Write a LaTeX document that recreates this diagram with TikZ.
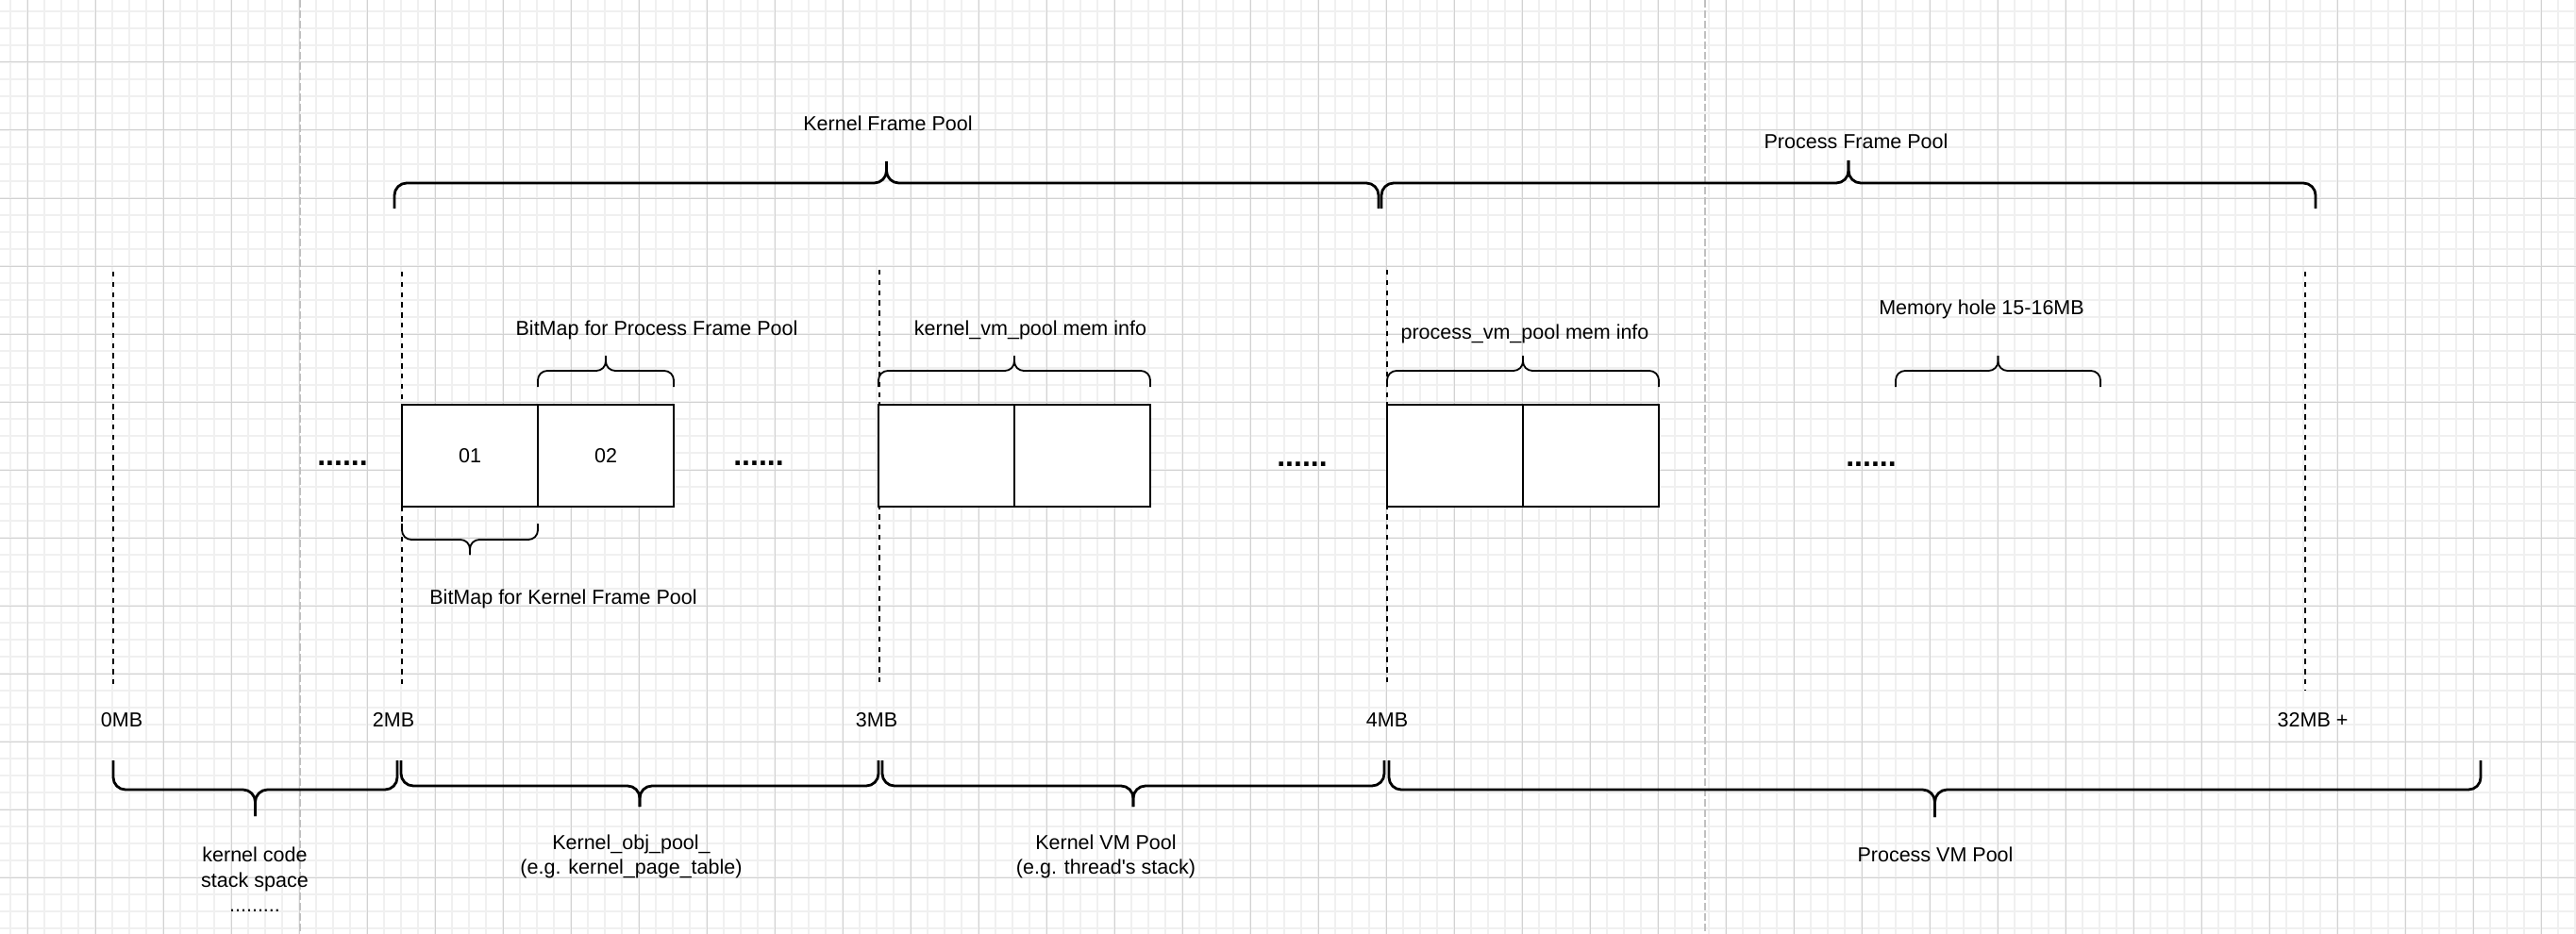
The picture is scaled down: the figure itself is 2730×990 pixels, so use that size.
\documentclass[tikz,border=0pt]{standalone}
\usepackage{fontspec}
\setmainfont{Liberation Sans}
\definecolor{minorgray}{HTML}{F0F0F0}
\definecolor{majorgray}{HTML}{D2D2D2}
\definecolor{pagegray}{HTML}{C0C0C0}
\newcommand{\cbrace}[6][]{%
  \pgfmathsetmacro\cbxm{(#2+#3)/2}%
  \draw[#1] (#2,#4) -- (#2,#5) -- (\cbxm,#5) -- (\cbxm,#6);
  \draw[#1] (#3,#4) -- (#3,#5) -- (\cbxm,#5) -- (\cbxm,#6);
}
\tikzset{
  lbl/.style={font=\fontsize{10.75}{13}\selectfont, inner sep=0pt, anchor=base},
  dotrow/.style={font=\bfseries\fontsize{16}{16}\selectfont, inner sep=0pt, anchor=base},
  cell/.style={draw, line width=0.9pt, fill=white, minimum width=72pt, minimum height=54pt, inner sep=0pt, font=\fontsize{10.75}{13}\selectfont},
  marker/.style={line width=0.9pt, dash pattern=on 2.7pt off 2.7pt},
  pageline/.style={draw=pagegray, line width=0.75pt, dash pattern=on 4pt off 1.5pt},
  bigbrace/.style={line width=1.4pt, rounded corners=6.5pt, line join=round},
  smallbrace/.style={line width=0.9pt, rounded corners=5pt, line join=round},
  minorgrid/.style={draw=minorgray, line width=0.9pt},
  majorgrid/.style={draw=majorgray, line width=0.5pt},
}
\begin{document}
\begin{tikzpicture}[x=0.5pt, y=-0.5pt]
\useasboundingbox (0,0) rectangle (2730,990);
\fill[white] (0,0) rectangle (2730,990);
% grid
\begin{scope}
\clip (0,0) rectangle (2730,990);
\foreach \x in {11,29,...,2730} \draw[minorgrid] (\x,0) -- (\x,990);
\foreach \y in {12,30,...,990} \draw[minorgrid] (0,\y) -- (2730,\y);
\foreach \x in {29,101,...,2730} \draw[majorgrid] (\x,0) -- (\x,990);
\foreach \y in {66,138,...,990} \draw[majorgrid] (0,\y) -- (2730,\y);
\end{scope}
% page break lines
\coordinate (p1t) at (318,0);  \coordinate (p1b) at (318,990);
\coordinate (p2t) at (1807,0); \coordinate (p2b) at (1807,990);
\draw[pageline] (p1t) -- (p1b);
\draw[pageline] (p2t) -- (p2b);
% address markers
\coordinate (m0t) at (120,288);  \coordinate (m0b) at (120,728);
\coordinate (m2t) at (426,288);  \coordinate (m2b) at (426,728);
\coordinate (m3t) at (932,286);  \coordinate (m3b) at (932,728);
\coordinate (m4t) at (1470,286); \coordinate (m4b) at (1470,728);
\coordinate (m32t) at (2443,288); \coordinate (m32b) at (2443,732);
\foreach \m in {m0,m2,m3,m4,m32} \draw[marker] (\m t) -- (\m b);
\node[lbl] (l0) at (129,770) {0MB};
\node[lbl] (l2) at (417,770) {2MB};
\node[lbl] (l3) at (929,770) {3MB};
\node[lbl] (l4) at (1470,770) {4MB};
\node[lbl] (l32) at (2451,770) {32MB +};
% cells
\node[cell] (b01) at (498,483) {01};
\node[cell] (b02) at (642,483) {02};
\node[cell] (kv1) at (1003,483) {};
\node[cell] (kv2) at (1147,483) {};
\node[cell] (pv1) at (1542,483) {};
\node[cell] (pv2) at (1686,483) {};
% dots
\node[dotrow] (d1) at (363,493) {......};
\node[dotrow] (d2) at (804,493) {......};
\node[dotrow] (d3) at (1380,494) {......};
\node[dotrow] (d4) at (1983,494) {......};
% top big braces
\cbrace[bigbrace]{418}{1461}{221}{194}{171}
\cbrace[bigbrace]{1464}{2454}{221}{194}{170}
\node[lbl] (kfp) at (941,139) {Kernel Frame Pool};
\node[lbl] (pfp) at (1967,157) {Process Frame Pool};
% small braces
\cbrace[smallbrace]{570}{714}{410}{393}{377}
\node[lbl] (bmp) at (696,355) {BitMap for Process Frame Pool};
\cbrace[smallbrace]{426}{570}{555}{572}{588}
\node[lbl] (bmk) at (597,640) {BitMap for Kernel Frame Pool};
\cbrace[smallbrace]{931}{1219}{410}{393}{377}
\node[lbl] (kvm) at (1092,355) {kernel\_vm\_pool mem info};
\cbrace[smallbrace]{1470}{1758}{410}{393}{377}
\node[lbl] (pvm) at (1616,359) {process\_vm\_pool mem info};
\cbrace[smallbrace]{2009}{2226}{410}{393}{377}
\node[lbl] (mh) at (2100,333) {Memory hole 15-16MB};
% bottom big braces
\cbrace[bigbrace]{120}{421}{806}{837}{865}
\cbrace[bigbrace]{425}{931}{806}{833}{855}
\cbrace[bigbrace]{935}{1467}{806}{833}{855}
\cbrace[bigbrace]{1472}{2629}{806}{837}{866}
\node[lbl] (kc1) at (270,913) {kernel code};
\node[lbl] (kc2) at (270,940) {stack space};
\node[lbl] (kc3) at (270,966) {.........};
\node[lbl] (ko1) at (669,900) {Kernel\_obj\_pool\_};
\node[lbl] (ko2) at (669,926) {(e.g. kernel\_page\_table)};
\node[lbl] (kv1l) at (1172,900) {Kernel VM Pool};
\node[lbl] (kv2l) at (1172,926) {(e.g. thread\textquotesingle s stack)};
\node[lbl] (pvp) at (2051,913) {Process VM Pool};
\end{tikzpicture}
\end{document}
